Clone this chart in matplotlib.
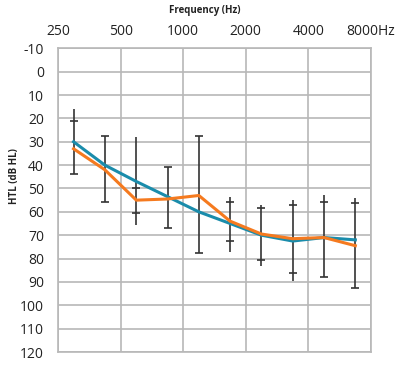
import matplotlib
matplotlib.use("Agg")
import matplotlib.pyplot as plt

# audiogram data
freqs = [297, 420, 595, 841, 1189, 1682, 2378, 3364, 4757, 6727]
htl_blue = [30, 40, 47, 53.5, 60, 65, 70, 72.5, 71, 72]
htl_orange = [33, 42, 55, 54.5, 53, 64, 69.5, 71.5, 71, 74.5]

# error bar extent and where the caps sit
err_lo = [16, 27.5, 28, 41, 27.5, 53.5, 57, 55, 53, 54]
err_hi = [44, 55.7, 65.6, 67, 77.7, 77, 83, 89.5, 88, 92.4]
cap_a = [21, 27.5, 50, 41, 27.5, 55.6, 58.2, 57, 56, 56.3]
cap_b = [44, 55.7, 60.6, 67, 77.7, 72.3, 80.5, 86, 87.7, 92.4]

tick_freqs = [250, 500, 1000, 2000, 4000, 8000]
tick_labels = ["250", "500", "1000", "2000", "4000", "8000Hz"]
y_ticks = list(range(-10, 121, 10))

plt.rcParams['font.family'] = ['Open Sans', 'DejaVu Sans']
plt.rcParams['axes.unicode_minus'] = False

fig = plt.figure(figsize=(4.0, 3.76), dpi=100)
ax = fig.add_axes([0.145, 0.0638, 0.7825, 0.8077])

grid_col = "#b8b8b8"
ax.set_xscale("log", base=2)
ax.set_xlim(250, 8000)
ax.set_ylim(120, -10)
ax.set_xticks(tick_freqs)
ax.set_xticklabels(tick_labels)
ax.minorticks_off()
ax.set_yticks(y_ticks)
ax.xaxis.tick_top()
ax.tick_params(length=0, labelsize=10, colors="#222222")
ax.tick_params(axis="y", pad=10)
ax.tick_params(axis="x", pad=7)
ax.grid(True, color=grid_col, linewidth=1.2)
for sp in ax.spines.values():
    sp.set_color(grid_col)
    sp.set_linewidth(1.2)

#error bars first so the lines sit on top
ax.vlines(freqs, err_lo, err_hi, color="#333333", linewidth=1.2, zorder=3)
ax.plot(freqs, cap_a, linestyle="none", marker="_", markersize=6,
        markeredgewidth=1.2, color="#333333", zorder=3)
ax.plot(freqs, cap_b, linestyle="none", marker="_", markersize=6,
        markeredgewidth=1.2, color="#333333", zorder=3)

ax.plot(freqs, htl_blue, color="#1a8cab", linewidth=2.2, zorder=4)
ax.plot(freqs, htl_orange, color="#f57a1f", linewidth=2.2, zorder=5)

fig.text(205 / 400, 1 - 10 / 376, "Frequency (Hz)", ha="center", va="center",
         fontsize=7, fontweight="bold", color="#222222")
fig.text(14 / 400, 1 - 176 / 376, "HTL (dB HL)", ha="center", va="center",
         rotation=90, fontsize=7, fontweight="bold", color="#222222")

plt.savefig("out.png", dpi=100)
